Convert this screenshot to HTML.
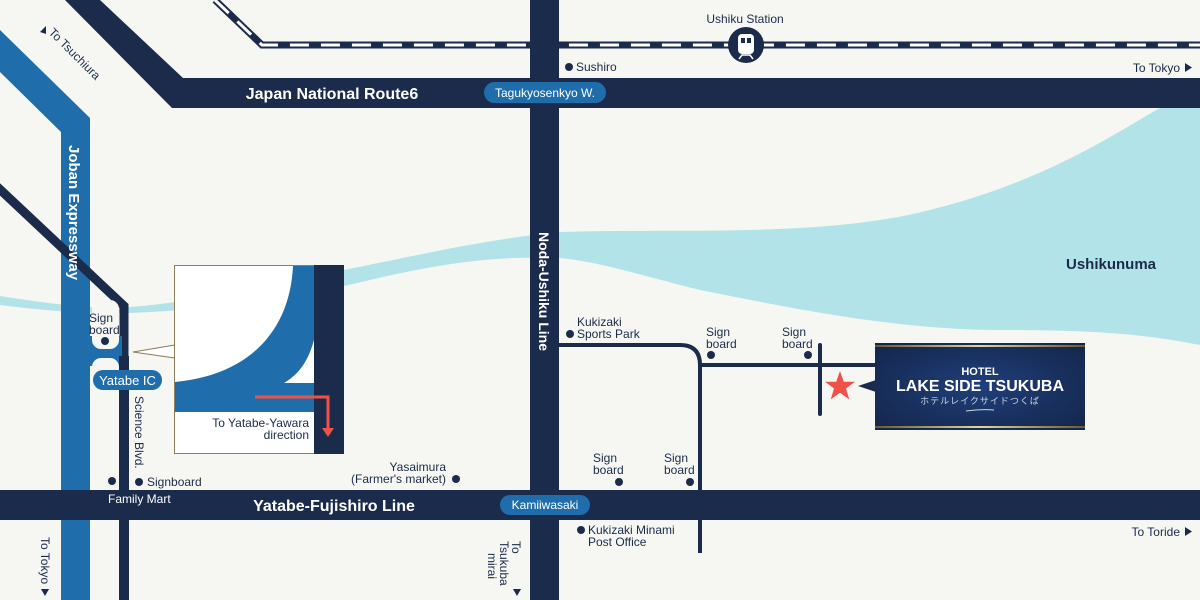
<!DOCTYPE html>
<html><head><meta charset="utf-8"><style>
html,body{margin:0;padding:0;background:#f6f7f2;}
svg{display:block;font-family:"Liberation Sans","Noto Sans CJK JP",sans-serif;}
</style></head><body>
<svg width="1200" height="600" viewBox="0 0 1200 600" xmlns="http://www.w3.org/2000/svg">
<defs>
<radialGradient id="hg" cx="0.5" cy="0.5" r="0.7">
<stop offset="0" stop-color="#1f3f7a"/><stop offset="1" stop-color="#14254a"/>
</radialGradient>
<linearGradient id="gold" x1="0" x2="1">
<stop offset="0" stop-color="#6b5a2a"/><stop offset="0.5" stop-color="#e6d39a"/><stop offset="1" stop-color="#6b5a2a"/>
</linearGradient>
</defs>
<rect width="1200" height="600" fill="#f6f7f2"/>
<!-- water -->
<path d="M0 296 C40 302 90 310 130 307 C200 302 280 282 344 270 C420 255 480 240 560 232 C680 228 820 238 930 210 C1050 180 1120 130 1160 108 L1200 108 L1200 345 C1150 335 1100 330 1000 330 C900 330 800 310 700 290 C640 275 600 262 560 258 C480 255 420 268 344 286 C260 303 200 310 130 313 C80 314 40 310 0 305 Z" fill="#b2e3e8"/>
<!-- railway -->
<path d="M215 0 L262 45 L1200 45" fill="none" stroke="#1b2b4b" stroke-width="7"/>
<path d="M215 0 L262 45 L1200 45" fill="none" stroke="#fff" stroke-width="3" stroke-dasharray="19 12"/>
<!-- Route 6 -->
<polygon points="65,0 100,0 183,78 1200,78 1200,108 172,108" fill="#1b2b4b"/>
<!-- Joban expressway -->
<polygon points="0,30 90,118 90,600 61,600 61,132 0,72" fill="#1f6dab"/>
<!-- Science blvd -->
<polyline points="-10,180 124,306 124,600" fill="none" stroke="#1b2b4b" stroke-width="9"/>
<!-- interchange -->
<rect x="89" y="336" width="33" height="30" fill="#1f6dab"/>
<rect x="92" y="300" width="27" height="49" rx="9" fill="#f6f7f2"/>
<rect x="92" y="358" width="27" height="70" rx="9" fill="#f6f7f2"/>
<rect x="119" y="356" width="10" height="244" fill="#1b2b4b"/>
<!-- Noda -->
<rect x="530" y="0" width="29" height="600" fill="#1b2b4b"/>
<!-- Yatabe-Fujishiro -->
<rect x="0" y="490" width="1200" height="30" fill="#1b2b4b"/>
<!-- local roads -->
<path d="M559 345 L680 345 Q700 345 700 365 L700 553" fill="none" stroke="#1b2b4b" stroke-width="4"/>
<path d="M700 365 L875 365" fill="none" stroke="#1b2b4b" stroke-width="4"/>
<path d="M820 345 L820 414" fill="none" stroke="#1b2b4b" stroke-width="4" stroke-linecap="round"/>
<!-- inset -->
<polygon points="133,352 175,345 175,358" fill="#fff" stroke="#8c7f5a" stroke-width="1"/>
<rect x="174.5" y="265.5" width="169" height="188" fill="#fff" stroke="#8c7f5a" stroke-width="1"/>
<path d="M293 266 C290 330 250 375 175 382 L175 412 L314 412 L314 266 Z" fill="#1f6dab"/>
<path d="M314 340 C308 362 298 375 284 383 L314 383 Z" fill="#fff"/>
<rect x="314" y="265" width="30" height="189" fill="#1b2b4b"/>
<path d="M255 397 L328 397 L328 430" fill="none" stroke="#f0524a" stroke-width="3"/>
<polygon points="322,428 334,428 328,437" fill="#f0524a"/>
<text x="309" y="427" font-size="12" fill="#1b2b4b" text-anchor="end">To Yatabe-Yawara</text>
<text x="309" y="439" font-size="12" fill="#1b2b4b" text-anchor="end">direction</text>
<!-- station -->
<circle cx="746" cy="45" r="18" fill="#1b2b4b"/>
<rect x="738" y="34" width="16" height="20" rx="4" fill="#fff"/>
<rect x="741" y="38" width="4" height="5" fill="#1b2b4b"/><rect x="747" y="38" width="4" height="5" fill="#1b2b4b"/>
<path d="M739 59 L742 55 L750 55 L753 59" fill="none" stroke="#fff" stroke-width="1.5"/>
<text x="745" y="23" font-size="12" fill="#1b2b4b" text-anchor="middle">Ushiku Station</text>
<circle cx="569" cy="67" r="4" fill="#1b2b4b"/>
<text x="576" y="71" font-size="12" fill="#1b2b4b">Sushiro</text>
<text x="1180" y="72" font-size="12" fill="#1b2b4b" text-anchor="end">To Tokyo</text>
<polygon points="1185,63 1185,72 1192,67.5" fill="#1b2b4b"/>
<!-- road labels -->
<text x="332" y="99" font-size="16" font-weight="bold" fill="#fff" text-anchor="middle">Japan National Route6</text>
<rect x="484" y="82" width="122" height="21" rx="10.5" fill="#1f6dab"/>
<text x="545" y="97" font-size="12" fill="#fff" text-anchor="middle">Tagukyosenkyo W.</text>
<text x="334" y="511" font-size="16" font-weight="bold" fill="#fff" text-anchor="middle">Yatabe-Fujishiro Line</text>
<rect x="500" y="495" width="90" height="20" rx="10" fill="#1f6dab"/>
<text x="545" y="509" font-size="12" fill="#fff" text-anchor="middle">Kamiiwasaki</text>
<text x="108" y="503" font-size="12" fill="#fff">Family Mart</text>
<rect x="93" y="370" width="69" height="20" rx="10" fill="#1f6dab"/>
<text x="127.5" y="385" font-size="13" fill="#fff" text-anchor="middle">Yatabe IC</text>
<text transform="translate(69,145) rotate(90)" font-size="15" font-weight="bold" fill="#fff">Joban Expressway</text>
<text transform="translate(539,232) rotate(90)" font-size="14" font-weight="bold" fill="#fff">Noda-Ushiku Line</text>
<text transform="translate(48,33) rotate(45)" font-size="12" fill="#1b2b4b">To Tsuchiura</text>
<polygon points="40,32 46,26 46,34" fill="#1b2b4b"/>
<text transform="translate(135,396) rotate(90)" font-size="12" fill="#1b2b4b">Science Blvd.</text>
<text transform="translate(41,537) rotate(90)" font-size="12" fill="#1b2b4b">To Tokyo</text>
<polygon points="41,589 49,589 45,596" fill="#1b2b4b"/>
<text transform="translate(512,541) rotate(90)" font-size="12" fill="#1b2b4b">To</text>
<text transform="translate(500,541) rotate(90)" font-size="12" fill="#1b2b4b">Tsukuba</text>
<text transform="translate(488,553) rotate(90)" font-size="12" fill="#1b2b4b">mirai</text>
<polygon points="513,589 521,589 517,596" fill="#1b2b4b"/>
<text x="1111" y="269" font-size="15" font-weight="bold" fill="#1b2b4b" text-anchor="middle">Ushikunuma</text>
<!-- POIs -->
<g font-size="12" fill="#1b2b4b">
<text x="89" y="322">Sign</text><text x="89" y="334">board</text>
<circle cx="105" cy="341" r="4"/>
<circle cx="112" cy="481" r="4"/>
<circle cx="139" cy="482" r="4"/><text x="147" y="486">Signboard</text>
<text x="446" y="471" text-anchor="end">Yasaimura</text>
<text x="446" y="483" text-anchor="end">(Farmer's market)</text>
<circle cx="456" cy="479" r="4"/>
<circle cx="570" cy="334" r="4"/><text x="577" y="326">Kukizaki</text><text x="577" y="338">Sports Park</text>
<text x="706" y="336">Sign</text><text x="706" y="348">board</text><circle cx="711" cy="355" r="4"/>
<text x="782" y="336">Sign</text><text x="782" y="348">board</text><circle cx="808" cy="355" r="4"/>
<text x="593" y="462">Sign</text><text x="593" y="474">board</text><circle cx="619" cy="482" r="4"/>
<text x="664" y="462">Sign</text><text x="664" y="474">board</text><circle cx="690" cy="482" r="4"/>
<circle cx="581" cy="530" r="4"/><text x="588" y="534">Kukizaki Minami</text><text x="588" y="546">Post Office</text>
<text x="1180" y="536" text-anchor="end">To Toride</text>
</g>
<polygon points="1185,527 1185,536 1192,531.5" fill="#1b2b4b"/>
<!-- star -->
<polygon points="840,371 843.8,381.8 855,381.8 846,388.5 849.3,399.5 840,392.8 830.7,399.5 834,388.5 825,381.8 836.2,381.8" fill="#f0524a"/>
<!-- hotel -->
<polygon points="858,386 876,380 876,392" fill="#1b2b4b"/>
<rect x="875" y="343" width="210" height="87" fill="url(#hg)"/>
<rect x="875" y="345" width="210" height="2" fill="url(#gold)"/>
<rect x="875" y="426" width="210" height="2" fill="url(#gold)"/>
<text x="980" y="375" font-size="11" font-weight="bold" fill="#fff" text-anchor="middle">HOTEL</text>
<text x="980" y="391" font-size="16" font-weight="bold" fill="#fff" text-anchor="middle">LAKE SIDE TSUKUBA</text>
<text x="980" y="404" font-size="9" fill="#cfd6e4" text-anchor="middle" letter-spacing="1">ホテルレイクサイドつくば</text>
<path d="M966 411 Q980 409 994 410" fill="none" stroke="#cfd6e4" stroke-width="1"/>
</svg>
</body></html>
